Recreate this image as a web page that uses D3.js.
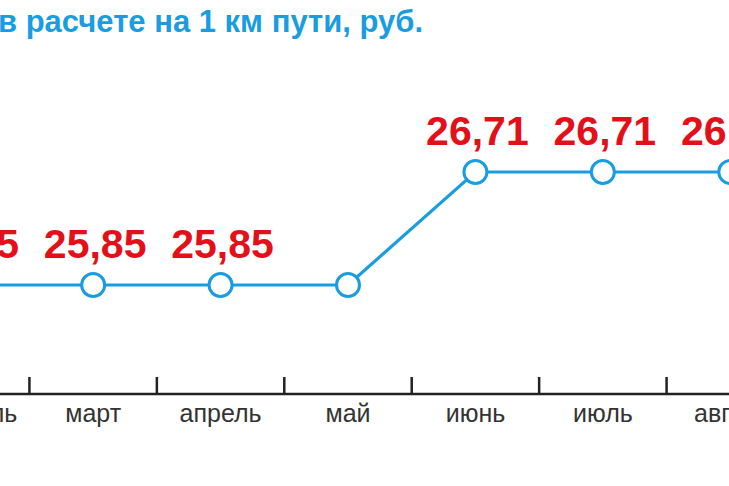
<!DOCTYPE html>
<html lang="ru">
<head>
<meta charset="utf-8">
<title>в расчете на 1 км пути, руб.</title>
<script src="https://d3js.org/d3.v7.min.js"></script>
<style>
  body { margin: 0; background: #fff; }
  svg { display: block; font-family: "Liberation Sans", Arial, Helvetica, sans-serif; }
</style>
</head>
<body>
<script>
// data
const months = ["февраль", "март", "апрель", "май", "июнь", "июль", "август"];
const values = [25.85, 25.85, 25.85, 25.85, 26.71, 26.71, 26.71];
const valueLabels = ["25,85", "25,85", "25,85", null, "26,71", "26,71", "26,71"];
const titleText = "в расчете на 1 км пути, руб.";

const width = 729, height = 486;
const blue = "#1a9de0", red = "#e3101a";

const points = months.map((m, i) => ({ month: m, value: values[i], label: valueLabels[i] }));

const svg = d3.select("body").append("svg")
    .attr("width", width)
    .attr("height", height);

// the picture is a crop of a wider chart, so the band range runs past both edges
const x = d3.scaleBand()
    .domain(months)
    .range([-98, 794])
    .padding(0);

const y = d3.scaleLinear()
    .domain([25.85, 26.71])
    .range([285, 172]);

const axisY = 394;

// title
svg.append("text")
    .attr("x", 423)
    .attr("y", 32)
    .attr("text-anchor", "end")
    .attr("fill", blue)
    .attr("font-size", 31)
    .attr("font-weight", "bold")
    .text(titleText);

// axis
const xAxis = d3.axisBottom(x).tickSize(0).tickPadding(10);
const gx = svg.append("g")
    .attr("transform", "translate(0," + axisY + ")")
    .call(xAxis);
gx.select(".domain").remove();
gx.selectAll("text")
    .attr("font-size", 25)
    .attr("font-family", "'Liberation Sans', Arial, sans-serif")
    .attr("fill", "#333");

svg.append("line")
    .attr("x1", 0).attr("x2", width)
    .attr("y1", axisY).attr("y2", axisY)
    .attr("stroke", "#222")
    .attr("stroke-width", 2.5);

// ticks sit on the band edges
svg.selectAll(".tick-mark")
    .data(months)
    .enter()
    .append("line")
    .attr("class", "tick-mark")
    .attr("x1", d => x(d)).attr("x2", d => x(d))
    .attr("y1", axisY - 17).attr("y2", axisY)
    .attr("stroke", "#222")
    .attr("stroke-width", 2.5);

// line
const cx = d => x(d.month) + x.bandwidth() / 2;
const line = d3.line()
    .x(cx)
    .y(d => y(d.value));

svg.append("path")
    .datum(points)
    .attr("d", line)
    .attr("fill", "none")
    .attr("stroke", blue)
    .attr("stroke-width", 3.2);

svg.selectAll(".dot")
    .data(points)
    .enter()
    .append("circle")
    .attr("class", "dot")
    .attr("cx", cx)
    .attr("cy", d => y(d.value))
    .attr("r", 11.5)
    .attr("fill", "#fff")
    .attr("stroke", blue)
    .attr("stroke-width", 3);

// value labels
svg.selectAll(".val")
    .data(points.filter(d => d.label !== null))
    .enter()
    .append("text")
    .attr("class", "val")
    .attr("x", d => cx(d) + 2)
    .attr("y", d => y(d.value) - 27)
    .attr("text-anchor", "middle")
    .attr("fill", red)
    .attr("font-size", 41)
    .attr("font-weight", "bold")
    .text(d => d.label);
</script>
</body>
</html>
